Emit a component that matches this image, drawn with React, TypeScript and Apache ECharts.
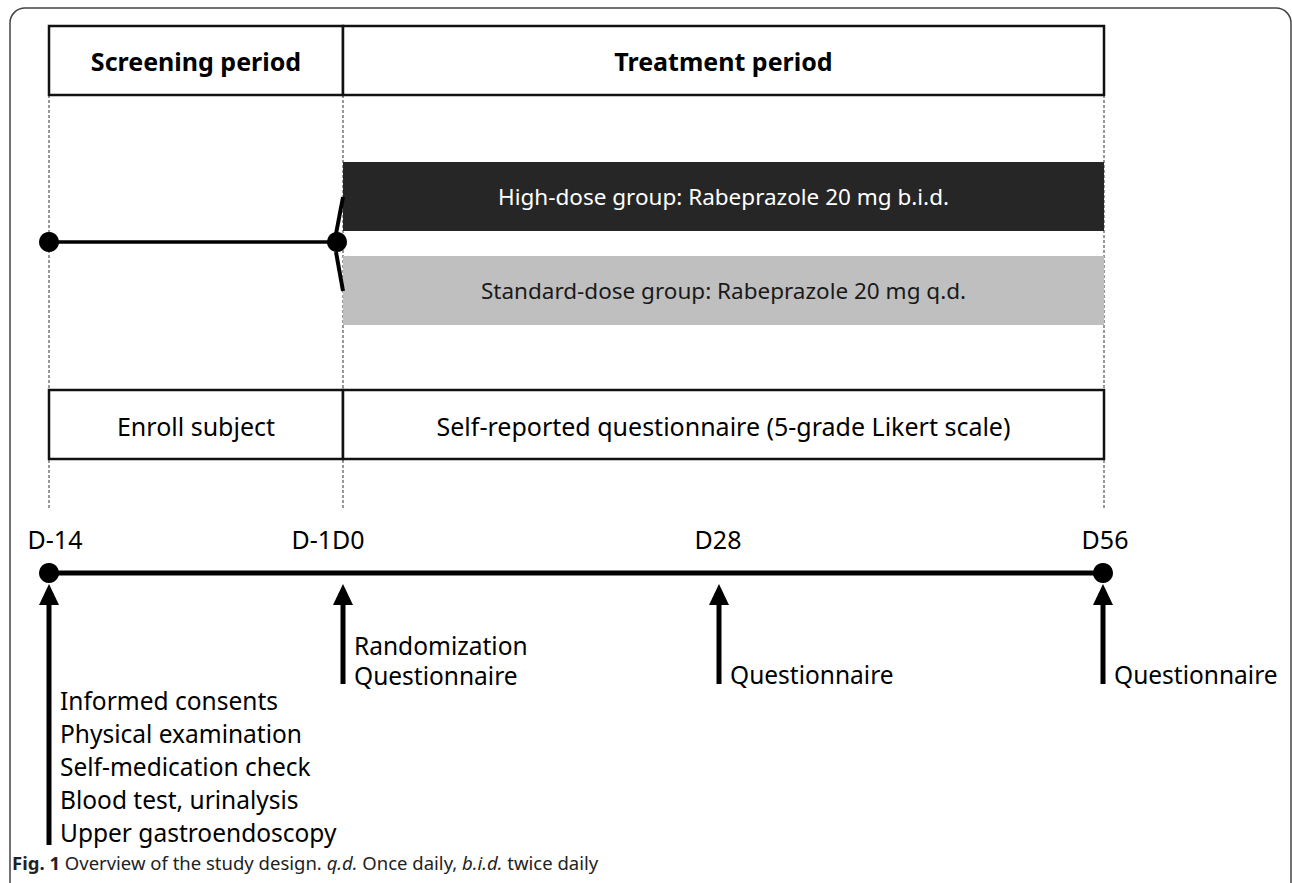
import React, { useEffect, useRef } from "react";
import * as echarts from "echarts";

// ---- content ----
const periods = ["Screening period", "Treatment period"];
const groups = [
  "High-dose group: Rabeprazole 20 mg b.i.d.",
  "Standard-dose group: Rabeprazole 20 mg q.d.",
];
const activities = ["Enroll subject", "Self-reported questionnaire (5-grade Likert scale)"];
const milestones = ["D-14", "D-1D0", "D28", "D56"];
const milestoneNotes = [
  ["Informed consents", "Physical examination", "Self-medication check", "Blood test, urinalysis", "Upper gastroendoscopy"],
  ["Randomization", "Questionnaire"],
  ["Questionnaire"],
  ["Questionnaire"],
];
const captionBold = "Fig. 1";
const captionParts = ["Overview of the study design.", "q.d.", "Once daily,", "b.i.d.", "twice daily"];

// ---- layout (positions / styles) ----
const FONT = "'Noto Sans', 'Open Sans', sans-serif";
const L = {
  bounds: [49, 343, 1104],
  milestoneX: [49, 343, 719, 1103],
  labelX: [55, 328, 718, 1105],
  headerY: [26, 95],
  barY: [[162, 231], [256, 325]],
  barColors: ["#262626", "#bfbfbf"],
  barText: ["#ffffff", "#1a1a1a"],
  actY: [390, 459],
  dashEnd: 510,
  lineY: 242,
  timeY: 573,
  labelY: 539,
  arrowTip: 584,
  arrowBase: 605,
  shaftEnd: [845, 684, 684, 684],
  notesY0: [700, 645, 674, 674],
  noteStep: 33,
};

function buildGraphics(): any[] {
  const g: any[] = [];
  const [x0, x1, x2] = L.bounds;
  const ink = "#111";

  // outer frame
  g.push({
    type: "rect",
    shape: { x: 10, y: 8, width: 1281, height: 890, r: 15 },
    style: { fill: "#fff", stroke: "#444", lineWidth: 1.5 },
  });

  // dashed guides
  L.bounds.forEach((x) => {
    g.push({
      type: "line",
      shape: { x1: x, y1: L.headerY[1], x2: x, y2: L.dashEnd },
      style: { stroke: "#333", lineWidth: 1, lineDash: [3, 2] },
    });
  });

  // header boxes
  const colBounds = [[x0, x1], [x1, x2]];
  periods.forEach((p, i) => {
    const [a, b] = colBounds[i];
    g.push({
      type: "rect",
      shape: { x: a, y: L.headerY[0], width: b - a, height: L.headerY[1] - L.headerY[0] },
      style: { fill: "#fff", stroke: ink, lineWidth: 2.5 },
    });
    g.push({
      type: "text",
      x: (a + b) / 2,
      y: (L.headerY[0] + L.headerY[1]) / 2,
      style: {
        text: p, fill: "#000", font: `bold 25px ${FONT}`,
        align: "center", verticalAlign: "middle",
      },
    });
  });

  // group bars
  groups.forEach((t, i) => {
    const [ya, yb] = L.barY[i];
    g.push({
      type: "rect",
      shape: { x: x1, y: ya, width: x2 - x1, height: yb - ya },
      style: { fill: L.barColors[i] },
    });
    g.push({
      type: "text",
      x: (x1 + x2) / 2,
      y: (ya + yb) / 2,
      style: {
        text: t, fill: L.barText[i], font: `22.5px ${FONT}`,
        align: "center", verticalAlign: "middle",
      },
    });
  });

  // screening line with dots and fork
  g.push({
    type: "line",
    shape: { x1: x0, y1: L.lineY, x2: x1 - 6, y2: L.lineY },
    style: { stroke: "#000", lineWidth: 3.5 },
  });
  g.push({
    type: "polyline",
    shape: { points: [[x1, 197], [x1 - 7, L.lineY - 8]] },
    style: { stroke: "#000", lineWidth: 4 },
  });
  g.push({
    type: "polyline",
    shape: { points: [[x1 - 7, L.lineY + 10], [x1, 291]] },
    style: { stroke: "#000", lineWidth: 4 },
  });
  g.push({ type: "circle", shape: { cx: x0, cy: L.lineY, r: 10 }, style: { fill: "#000" } });
  g.push({ type: "circle", shape: { cx: x1 - 6, cy: L.lineY, r: 10 }, style: { fill: "#000" } });

  // activity boxes
  activities.forEach((t, i) => {
    const [a, b] = colBounds[i];
    g.push({
      type: "rect",
      shape: { x: a, y: L.actY[0], width: b - a, height: L.actY[1] - L.actY[0] },
      style: { fill: "#fff", stroke: ink, lineWidth: 2.5 },
    });
    g.push({
      type: "text",
      x: (a + b) / 2,
      y: (L.actY[0] + L.actY[1]) / 2 + 1,
      style: {
        text: t, fill: "#000", font: `25px ${FONT}`,
        align: "center", verticalAlign: "middle",
      },
    });
  });

  // timeline
  const mx = L.milestoneX;
  g.push({
    type: "line",
    shape: { x1: mx[0], y1: L.timeY, x2: mx[mx.length - 1], y2: L.timeY },
    style: { stroke: "#000", lineWidth: 5 },
  });
  g.push({ type: "circle", shape: { cx: mx[0], cy: L.timeY, r: 10 }, style: { fill: "#000" } });
  g.push({ type: "circle", shape: { cx: mx[mx.length - 1], cy: L.timeY, r: 10 }, style: { fill: "#000" } });

  milestones.forEach((m, i) => {
    const x = mx[i];
    g.push({
      type: "text",
      x: L.labelX[i],
      y: L.labelY,
      style: {
        text: m, fill: "#000", font: `25px ${FONT}`,
        align: "center", verticalAlign: "middle",
      },
    });
    // arrow
    g.push({
      type: "polygon",
      shape: { points: [[x, L.arrowTip], [x - 10, L.arrowBase], [x + 10, L.arrowBase]] },
      style: { fill: "#000" },
    });
    g.push({
      type: "rect",
      shape: { x: x - 2.5, y: L.arrowBase - 1, width: 5, height: L.shaftEnd[i] - L.arrowBase + 1 },
      style: { fill: "#000" },
    });
    milestoneNotes[i].forEach((n, j) => {
      g.push({
        type: "text",
        x: x + 11,
        y: L.notesY0[i] + j * L.noteStep - (i === 1 ? 3 * j : 0),
        style: {
          text: n, fill: "#000", font: `24.5px ${FONT}`,
          align: "left", verticalAlign: "middle",
        },
      });
    });
  });

  // caption
  g.push({
    type: "text",
    x: 12,
    y: 862,
    style: {
      text: `{b|${captionBold}} ${captionParts[0]} {i|${captionParts[1]}} ${captionParts[2]} {i|${captionParts[3]}} ${captionParts[4]}`,
      fill: "#222",
      font: `18.5px ${FONT}`,
      align: "left",
      verticalAlign: "middle",
      rich: {
        b: { fontWeight: "bold", fontSize: 18.5, fontFamily: FONT, fill: "#222" },
        i: { fontStyle: "italic", fontSize: 18.5, fontFamily: FONT, fill: "#222" },
      },
    },
  });

  return g;
}

export default function App() {
  const ref = useRef<HTMLDivElement>(null);
  useEffect(() => {
    if (!ref.current) return;
    const chart = echarts.init(ref.current, undefined, { renderer: "svg" });
    chart.setOption({
      animation: false,
      backgroundColor: "#fff",
      graphic: { elements: buildGraphics() },
    });
    return () => chart.dispose();
  }, []);
  return (
    <div
      ref={ref}
      style={{ position: "fixed", left: 0, top: 0, width: 1292, height: 883, background: "#fff" }}
    />
  );
}
